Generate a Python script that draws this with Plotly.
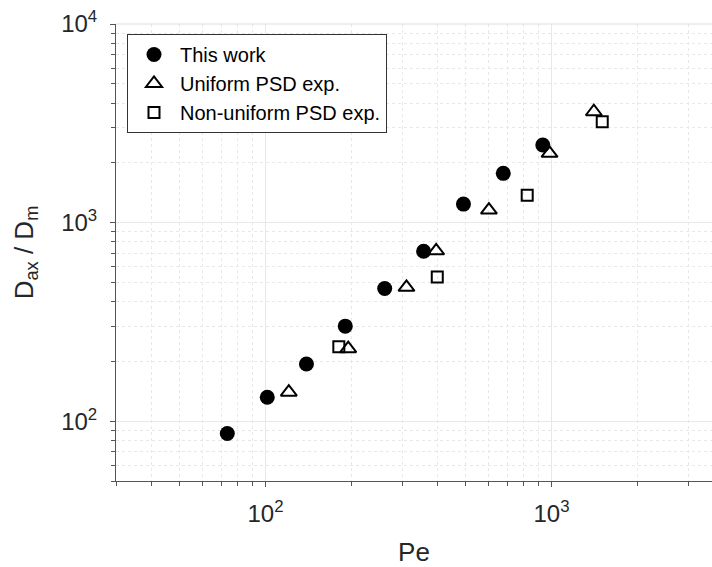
import math
import plotly.graph_objects as go

# Data (Pe, Dax/Dm)
this_work_pe = [73.5, 101.4, 139, 190, 261, 357, 492, 678, 932]
this_work_d = [86.7, 132, 194, 301, 466, 718, 1239, 1770, 2457]

uniform_pe = [120.6, 194.6, 311, 395, 604, 984, 1406]
uniform_d = [140, 232, 472, 721, 1156, 2232, 3615]

nonuniform_pe = [180.4, 398.5, 822, 1504]
nonuniform_d = [237, 533, 1375, 3220]

series_names = ["This work", "Uniform PSD exp.", "Non-uniform PSD exp."]

x_major = [100, 1000]
x_major_text = ["10<sup>2</sup>", "10<sup>3</sup>"]
y_major = [100, 1000, 10000]
y_major_text = ["10<sup>2</sup>", "10<sup>3</sup>", "10<sup>4</sup>"]
x_minor = [30, 40, 50, 60, 70, 80, 90, 200, 300, 400, 500, 600, 700, 800, 900, 2000, 3000]
y_minor = [50, 60, 70, 80, 90, 200, 300, 400, 500, 600, 700, 800, 900,
           2000, 3000, 4000, 5000, 6000, 7000, 8000, 9000]

FONT = "Liberation Sans, Arial, Helvetica, sans-serif"
TXT = "#262626"
AX = "#555555"
GRID = "#e8e8e8"

fig = go.Figure()
fig.add_trace(go.Scatter(
    x=this_work_pe, y=this_work_d, mode="markers", name=series_names[0],
    marker=dict(symbol="circle", size=15, color="black", line=dict(width=0))))
fig.add_trace(go.Scatter(
    x=uniform_pe, y=uniform_d, mode="markers", name=series_names[1],
    marker=dict(symbol="triangle-up-open", size=14, color="black", line=dict(width=2, color="black"))))
fig.add_trace(go.Scatter(
    x=nonuniform_pe, y=nonuniform_d, mode="markers", name=series_names[2],
    marker=dict(symbol="square-open", size=11, color="black", line=dict(width=2, color="black"))))

W, H = 712, 567
ml, mr, mt, mb = 116, 0, 24, 86
pw = W - ml - mr
ph = H - mt - mb
dec_x = 286.0
x0 = math.log10(30)
x1 = x0 + pw / dec_x

fig.update_layout(
    width=W, height=H,
    margin=dict(l=ml, r=mr, t=mt, b=mb, pad=0),
    paper_bgcolor="white", plot_bgcolor="white",
    font=dict(family=FONT, color=TXT),
    showlegend=True,
    legend=dict(
        x=(127 - ml) / pw, y=(H - mb - 34) / ph, xanchor="left", yanchor="top",
        bgcolor="white", bordercolor="#333333", borderwidth=1,
        font=dict(size=20, family=FONT, color="black"),
        itemwidth=42, tracegroupgap=0,
    ),
    xaxis=dict(
        type="log", range=[x0, x1],
        tickmode="array", tickvals=x_major, ticktext=x_major_text,
        ticks="outside", ticklen=5, tickwidth=1, tickcolor=AX,
        showline=True, linecolor=AX, linewidth=1,
        showgrid=True, gridcolor=GRID, gridwidth=1,
        zeroline=False,
        tickfont=dict(size=24, family=FONT, color=TXT),
        ticklabelstandoff=6,
        title=dict(text="Pe", font=dict(size=26, family=FONT, color=TXT), standoff=22),
        minor=dict(tickmode="array", tickvals=x_minor, ticks="outside", ticklen=4,
                   tickcolor=AX, showgrid=True, gridcolor=GRID, griddash="dot", gridwidth=1),
    ),
    yaxis=dict(
        type="log", range=[math.log10(50), 4],
        tickmode="array", tickvals=y_major, ticktext=y_major_text,
        ticks="outside", ticklen=5, tickwidth=1, tickcolor=AX,
        showline=True, linecolor=AX, linewidth=1,
        showgrid=True, gridcolor=GRID, gridwidth=1,
        zeroline=False,
        tickfont=dict(size=24, family=FONT, color=TXT),
        ticklabelstandoff=8,
        title=dict(text="D<sub>ax</sub> / D<sub>m</sub>", font=dict(size=26, family=FONT, color=TXT), standoff=20),
        minor=dict(tickmode="array", tickvals=y_minor, ticks="outside", ticklen=4,
                   tickcolor=AX, showgrid=True, gridcolor=GRID, griddash="dot", gridwidth=1),
    ),
    shapes=[dict(type="line", xref="paper", yref="paper", x0=0, x1=1, y0=1, y1=1,
                 line=dict(color="#dddddd", width=1))],
)

fig.write_html("out.html")
